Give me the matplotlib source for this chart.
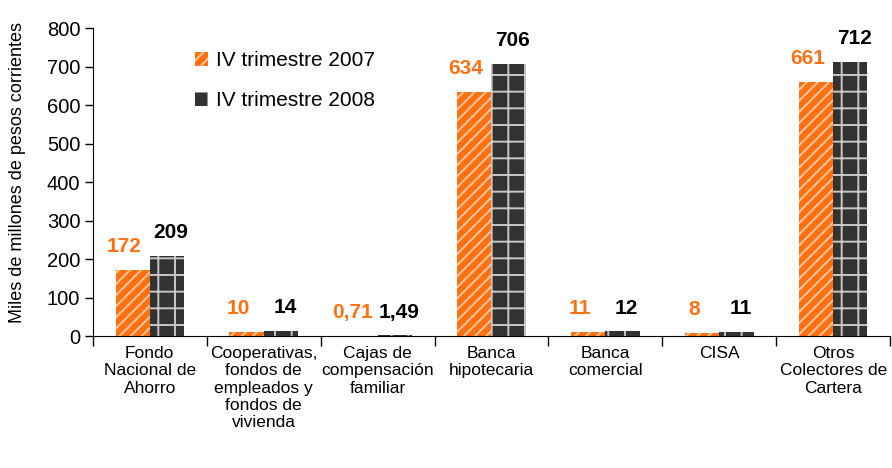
import numpy as np
import matplotlib
matplotlib.use("Agg")
import matplotlib.pyplot as plt

plt.rcParams['font.family'] = ['Liberation Sans', 'DejaVu Sans']
plt.rcParams['hatch.linewidth'] = 1.4

categorias = ["Fondo\nNacional de\nAhorro",
              "Cooperativas,\nfondos de\nempleados y\nfondos de\nvivienda",
              "Cajas de\ncompensación\nfamiliar",
              "Banca\nhipotecaria",
              "Banca\ncomercial",
              "CISA",
              "Otros\nColectores de\nCartera"]
v2007 = [172, 10, 0.71, 634, 11, 8, 661]
v2008 = [209, 14, 1.49, 706, 12, 11, 712]
et2007 = ["172", "10", "0,71", "634", "11", "8", "661"]
et2008 = ["209", "14", "1,49", "706", "12", "11", "712"]

naranja = "#FF7010"
oscuro = "#333333"

fig = plt.figure(figsize=(8.92, 4.68), dpi=100)
ax = fig.add_axes([0.104, 0.282, 0.894, 0.658])

x = np.arange(len(categorias))
w = 0.3
b1 = ax.bar(x - w/2, v2007, w, color=naranja, edgecolor="#FFC8A0", hatch="///",
            linewidth=0, label="IV trimestre 2007")
b2 = ax.bar(x + w/2, v2008, w, color=oscuro, edgecolor="#C8C8C8", hatch="+",
            linewidth=0, label="IV trimestre 2008")
for r in list(b1) + list(b2):
    r.set_linewidth(0)

for xi, v, t in zip(x, v2007, et2007):
    ax.annotate(t, (xi - w/2, v), xytext=(-6, 10), textcoords="offset points",
                ha="center", va="bottom", color=naranja, fontsize=15, fontweight="bold")
for xi, v, t in zip(x, v2008, et2008):
    ax.annotate(t, (xi + w/2, v), xytext=(3, 10), textcoords="offset points",
                ha="center", va="bottom", color="black", fontsize=15, fontweight="bold")

ax.set_xlim(-0.5, len(categorias) - 0.5)
ax.set_ylim(0, 800)
ax.set_yticks(range(0, 801, 100))
ax.set_xticks(x)
ax.set_xticklabels(categorias, fontsize=12.5, linespacing=1.2)
ax.set_xticks(np.arange(-0.5, len(categorias)), minor=True)
ax.tick_params(axis="x", which="major", length=0, pad=7)
ax.tick_params(axis="x", which="minor", length=7, width=1)
ax.tick_params(axis="y", length=6, width=1, labelsize=14.5, pad=3)
ax.spines["top"].set_visible(False)
ax.spines["right"].set_visible(False)
ax.set_ylabel("Miles de millones de pesos corrientes", fontsize=13, labelpad=1)
ax.yaxis.set_label_coords(-0.084, 0.53)

ax.legend(loc="upper left", bbox_to_anchor=(0.105, 0.985), frameon=False,
          fontsize=15, handlelength=0.6, handleheight=0.6, handletextpad=0.4,
          labelspacing=1.0)

fig.savefig("out.png", dpi=100)
